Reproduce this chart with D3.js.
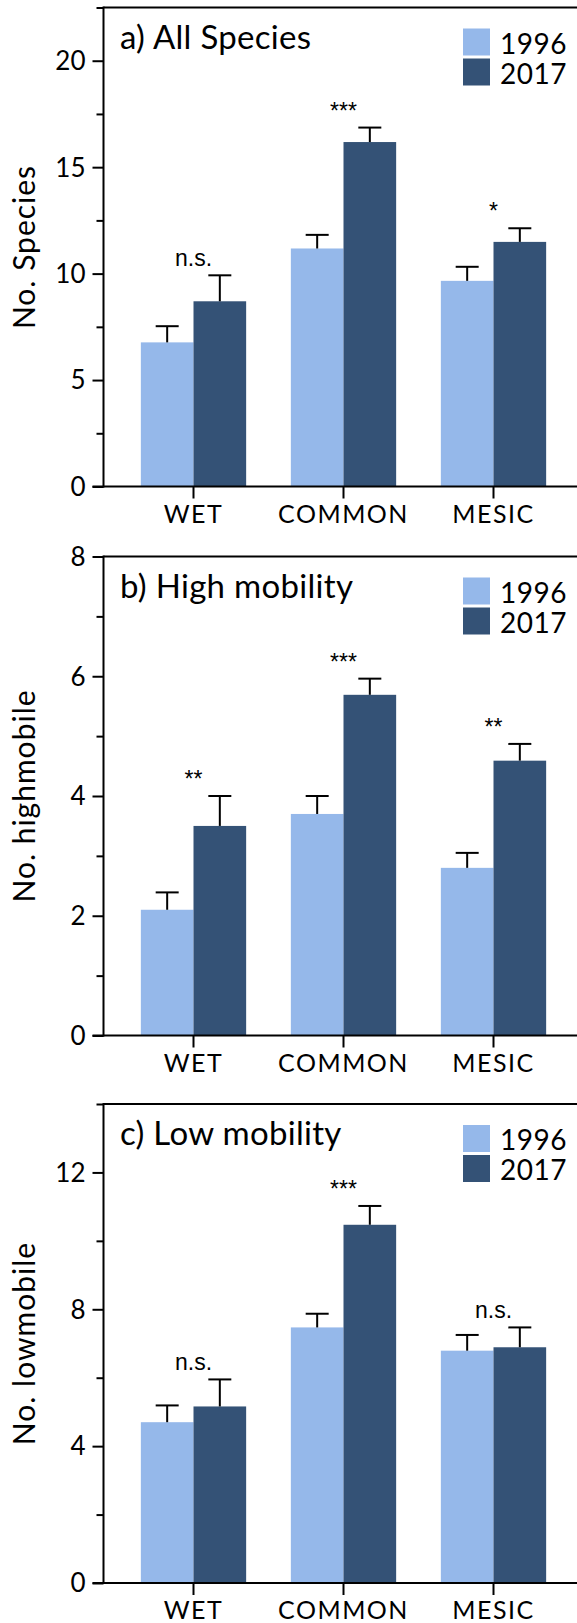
<!DOCTYPE html>
<html>
<head>
<meta charset="utf-8">
<script src="https://cdn.jsdelivr.net/npm/d3@7"></script>
<style>
body { margin: 0; background: #fff; }
svg text { font-family: Lato, sans-serif; fill: #000; }
</style>
</head>
<body>
<script>

// data
var categories = ["WET", "COMMON", "MESIC"];
var years = ["1996", "2017"];

var allMean1996 = [6.77, 11.18, 9.66];
var allMean2017 = [8.70, 16.18, 11.49];
var allSe1996 = [0.76, 0.64, 0.66];
var allSe2017 = [1.22, 0.68, 0.64];
var allSig = ["n.s.", "***", "*"];

var highMean1996 = [2.10, 3.70, 2.80];
var highMean2017 = [3.50, 5.69, 4.59];
var highSe1996 = [0.29, 0.30, 0.25];
var highSe2017 = [0.50, 0.27, 0.28];
var highSig = ["**", "***", "**"];

var lowMean1996 = [4.70, 7.47, 6.79];
var lowMean2017 = [5.16, 10.47, 6.89];
var lowSe1996 = [0.49, 0.40, 0.46];
var lowSe2017 = [0.79, 0.55, 0.58];
var lowSig = ["n.s.", "***", "n.s."];

var allTicks = [0, 5, 10, 15, 20];
var allMinor = [2.5, 7.5, 12.5, 17.5, 22.5];
var highTicks = [0, 2, 4, 6, 8];
var highMinor = [1, 3, 5, 7];
var lowTicks = [0, 4, 8, 12];
var lowMinor = [2, 6, 10, 14];

var colors = ["#95b8ea", "#345276"];

var width = 577,
	height = 1623,
	left = 103.5,
	plotH = 479;

var svg = d3.select("body").append("svg")
	.attr("width", width)
	.attr("height", height);

var x0 = d3.scaleBand()
	.domain(categories)
	.range([118.5, 568.5])
	.paddingInner(0.298)
	.paddingOuter(0.149);

var x1 = d3.scaleBand()
	.domain(years)
	.range([0, x0.bandwidth()]);

function panel(top, title, ylabel, ymax, ticks, minor, m96, m17, s96, s17, sig){
	var g = svg.append("g").attr("transform", "translate(0," + top + ")");

	var y = d3.scaleLinear().domain([0, ymax]).range([plotH, 0]);

	var rows = categories.map(function(c, i){
		return {cat: c, sig: sig[i], vals: [
			{year: years[0], v: m96[i], se: s96[i]},
			{year: years[1], v: m17[i], se: s17[i]}
		]};
	});

	// bars
	var grp = g.selectAll(".grp")
		.data(rows)
		.enter()
		.append("g")
		.attr("class", "grp")
		.attr("transform", function(d){ return "translate(" + x0(d.cat) + ",0)"; });

	grp.selectAll("rect")
		.data(function(d){ return d.vals; })
		.enter()
		.append("rect")
		.attr("x", function(d){ return x1(d.year); })
		.attr("width", x1.bandwidth())
		.attr("y", function(d){ return y(d.v); })
		.attr("height", function(d){ return plotH - y(d.v); })
		.style("fill", function(d, i){ return colors[i]; });

	// error bars (upper only)
	var eb = grp.selectAll(".eb")
		.data(function(d){ return d.vals; })
		.enter()
		.append("g")
		.attr("class", "eb")
		.style("stroke", "#000")
		.style("stroke-width", 2);

	eb.append("line")
		.attr("x1", function(d){ return x1(d.year) + x1.bandwidth() / 2; })
		.attr("x2", function(d){ return x1(d.year) + x1.bandwidth() / 2; })
		.attr("y1", function(d){ return y(d.v); })
		.attr("y2", function(d){ return y(d.v + d.se); });
	eb.append("line")
		.attr("x1", function(d){ return x1(d.year) + x1.bandwidth() / 2 - 11.5; })
		.attr("x2", function(d){ return x1(d.year) + x1.bandwidth() / 2 + 11.5; })
		.attr("y1", function(d){ return y(d.v + d.se); })
		.attr("y2", function(d){ return y(d.v + d.se); });

	// significance
	grp.append("text")
		.attr("x", x0.bandwidth() / 2)
		.attr("y", function(d){
			var t = d3.max(d.vals, function(e){ return e.v + e.se; });
			return y(t) - 9;
		})
		.attr("text-anchor", "middle")
		.style("font-family", "'Liberation Sans', Arial, sans-serif")
		.style("font-size", "23px")
		.text(function(d){ return d.sig; });

	// y axis
	var ya = g.append("g")
		.attr("transform", "translate(" + left + ",0)")
		.call(d3.axisLeft(y).tickValues(ticks).tickSize(11).tickPadding(7));
	g.append("g")
		.attr("transform", "translate(" + left + ",0)")
		.call(d3.axisLeft(y).tickValues(minor).tickSize(7).tickFormat(""))
		.select(".domain").remove();
	ya.select(".domain").remove();
	ya.selectAll("text").style("font-size", "26px").attr("dy", "0.34em");

	g.selectAll(".tick line").style("stroke", "#000").style("stroke-width", 2);

	g.append("line")
		.attr("x1", left).attr("x2", left)
		.attr("y1", y(ymax) - 1).attr("y2", plotH + 1)
		.style("stroke", "#000").style("stroke-width", 2);
	g.append("line")
		.attr("x1", left).attr("x2", width)
		.attr("y1", y(ymax)).attr("y2", y(ymax))
		.style("stroke", "#000").style("stroke-width", 2);

	// x axis
	var xa = g.append("g")
		.attr("transform", "translate(0," + plotH + ")")
		.call(d3.axisBottom(x0).tickSize(12).tickPadding(7).tickSizeOuter(0));
	xa.select(".domain").remove();
	xa.selectAll(".tick line").style("stroke", "#000").style("stroke-width", 2);
	xa.selectAll("text").style("font-size", "25px").attr("dy", "17px").style("letter-spacing", "1.5px");
	g.append("line")
		.attr("x1", left - 11).attr("x2", width)
		.attr("y1", plotH).attr("y2", plotH)
		.style("stroke", "#000").style("stroke-width", 2);

	g.selectAll(".tick text").style("fill", "#000");

	// title
	g.append("text")
		.attr("x", 120)
		.attr("y", 41)
		.style("font-size", "33px")
		.style("letter-spacing", "0.3px")
		.text(title);

	// legend
	var lg = g.selectAll(".lg")
		.data(years)
		.enter()
		.append("g")
		.attr("class", "lg")
		.attr("transform", function(d, i){ return "translate(463," + (21 + i * 30) + ")"; });
	lg.append("rect")
		.attr("width", 27)
		.attr("height", 27)
		.style("fill", function(d, i){ return colors[i]; });
	lg.append("text")
		.attr("x", 37)
		.attr("y", 25)
		.style("font-size", "28px")
		.style("letter-spacing", "0.5px")
		.text(function(d){ return d; });

	// y label
	g.append("text")
		.attr("transform", "translate(35," + (plotH / 2) + ") rotate(-90)")
		.attr("text-anchor", "middle")
		.style("font-size", "30px")
		.style("letter-spacing", "1px")
		.text(ylabel);
}

panel(7.5, "a) All Species", "No. Species", 22.5, allTicks, allMinor,
	allMean1996, allMean2017, allSe1996, allSe2017, allSig);
panel(556.5, "b) High mobility", "No. highmobile", 8, highTicks, highMinor,
	highMean1996, highMean2017, highSe1996, highSe2017, highSig);
panel(1104, "c) Low mobility", "No. lowmobile", 14, lowTicks, lowMinor,
	lowMean1996, lowMean2017, lowSe1996, lowSe2017, lowSig);

</script>
</body>
</html>
